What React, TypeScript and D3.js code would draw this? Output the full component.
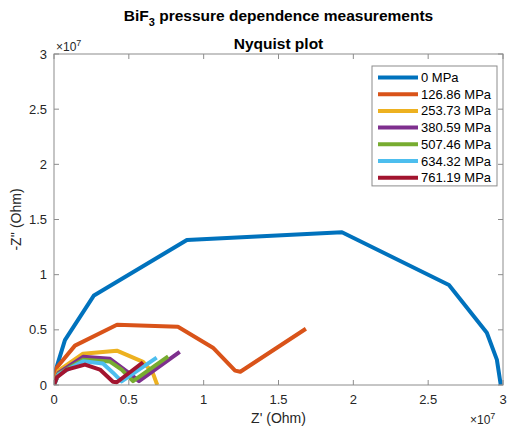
import React from "react";
import * as d3 from "d3";

// Nyquist data (Ohm) for each applied pressure
const pressures = ["0 MPa", "126.86 MPa", "253.73 MPa", "380.59 MPa", "507.46 MPa", "634.32 MPa", "761.19 MPa"];
const colors = ["#0072BD", "#D95319", "#EDB120", "#7E2F8E", "#77AC30", "#4DBEEE", "#A2142F"];

const zRe0 = [0, 0.15e6, 0.73e6, 2.67e6, 8.88e6, 19.24e6, 26.39e6, 28.92e6, 29.59e6, 29.85e6];
const zIm0 = [0, 1.5e6, 4.06e6, 8.12e6, 13.15e6, 13.85e6, 9.07e6, 4.74e6, 2.3e6, 0];

const zRe1 = [0, 0.2e6, 1.4e6, 4.21e6, 8.28e6, 10.62e6, 12.1e6, 12.45e6, 16.83e6];
const zIm1 = [0, 1.6e6, 3.57e6, 5.46e6, 5.28e6, 3.38e6, 1.3e6, 1.2e6, 5.1e6];

const zRe2 = [0, 0.3e6, 1.94e6, 4.2e6, 5.95e6, 6.6e6, 6.9e6];
const zIm2 = [0, 1.3e6, 2.84e6, 3.11e6, 2.1e6, 1.1e6, 0];

const zRe3 = [0, 0.3e6, 1.94e6, 3.74e6, 4.88e6, 5.68e6, 8.4e6];
const zIm3 = [0, 1.1e6, 2.55e6, 2.37e6, 1.21e6, 0.35e6, 3.01e6];

const zRe4 = [0, 0.3e6, 1.94e6, 3.74e6, 4.52e6, 5.28e6, 7.63e6];
const zIm4 = [0, 1.0e6, 2.3e6, 2.12e6, 1.39e6, 0.35e6, 2.59e6];

const zRe5 = [0, 0.3e6, 1.94e6, 3.27e6, 3.94e6, 4.52e6, 6.86e6];
const zIm5 = [0, 0.95e6, 2.15e6, 1.94e6, 1.12e6, 0.33e6, 2.48e6];

const zRe6 = [0, 0.2e6, 0.85e6, 2.07e6, 3.07e6, 3.94e6, 4.2e6, 5.95e6];
const zIm6 = [0, 0.7e6, 1.39e6, 1.85e6, 1.4e6, 0.3e6, 0.25e6, 2.06e6];

const seriesRe = [zRe0, zRe1, zRe2, zRe3, zRe4, zRe5, zRe6];
const seriesIm = [zIm0, zIm1, zIm2, zIm3, zIm4, zIm5, zIm6];

const xTicks = [0, 0.5e7, 1e7, 1.5e7, 2e7, 2.5e7, 3e7];
const yTicks = [0, 0.5e7, 1e7, 1.5e7, 2e7, 2.5e7, 3e7];

const W = 507;
const H = 428;
const left = 54;
const right = 503;
const top = 54;
const bottom = 385;
const font = "'Liberation Sans', Arial, Helvetica, sans-serif";
const textColor = "#262626";
const axisColor = "#8c8c8c";

export default function App() {
  const x = d3.scaleLinear().domain([0, 3e7]).range([left, right]);
  const y = d3.scaleLinear().domain([0, 3e7]).range([bottom, top]);
  const line = d3
    .line<[number, number]>()
    .x((d) => x(d[0]))
    .y((d) => y(d[1]));
  const fmt = (v: number) => d3.format("~g")(v / 1e7);

  const legX = 372;
  const legY = 66;
  const legW = 125;
  const rowH = 16.7;
  const legH = rowH * pressures.length + 3;

  return (
    <svg
      width={W}
      height={H}
      style={{ position: "absolute", left: 0, top: 0, background: "#fff" }}
      fontFamily={font}
    >
      <rect x={0} y={0} width={W} height={H} fill="#fff" />
      <defs>
        <clipPath id="plotClip">
          <rect x={left} y={top} width={right - left} height={bottom - top} />
        </clipPath>
      </defs>

      <g clipPath="url(#plotClip)">
        {seriesRe.map((re, i) => (
          <path
            key={pressures[i]}
            d={line(re.map((v, k) => [v, seriesIm[i][k]] as [number, number])) || ""}
            fill="none"
            stroke={colors[i]}
            strokeWidth={4}
            strokeLinejoin="round"
          />
        ))}
      </g>

      {/* axes box */}
      <rect
        x={left}
        y={top}
        width={right - left}
        height={bottom - top}
        fill="none"
        stroke={axisColor}
        strokeWidth={1}
      />
      {xTicks.map((t) => (
        <g key={"xt" + t}>
          <line x1={x(t)} x2={x(t)} y1={bottom} y2={bottom - 5} stroke={axisColor} />
          <line x1={x(t)} x2={x(t)} y1={top} y2={top + 5} stroke={axisColor} />
          <text x={x(t)} y={bottom + 19} textAnchor="middle" fontSize={13} fill={textColor}>
            {fmt(t)}
          </text>
        </g>
      ))}
      {yTicks.map((t) => (
        <g key={"yt" + t}>
          <line x1={left} x2={left + 5} y1={y(t)} y2={y(t)} stroke={axisColor} />
          <line x1={right} x2={right - 5} y1={y(t)} y2={y(t)} stroke={axisColor} />
          <text x={left - 7} y={y(t) + 4.5} textAnchor="end" fontSize={13} fill={textColor}>
            {fmt(t)}
          </text>
        </g>
      ))}

      {/* exponent markers */}
      <text x={left + 2} y={51} fontSize={12} fill={textColor}>
        ×10<tspan dy={-5} fontSize={9}>7</tspan>
      </text>
      <text x={right - 33} y={H - 4} fontSize={12} fill={textColor}>
        ×10<tspan dy={-5} fontSize={9}>7</tspan>
      </text>

      {/* titles */}
      <text x={(left + right) / 2} y={21} textAnchor="middle" fontSize={15.5} fontWeight="bold" fill="#000">
        BiF<tspan dy={5} fontSize={11}>3</tspan>
        <tspan dy={-5}> pressure dependence measurements</tspan>
      </text>
      <text x={(left + right) / 2} y={49} textAnchor="middle" fontSize={15.5} fontWeight="bold" fill="#000">
        Nyquist plot
      </text>

      {/* axis labels */}
      <text x={(left + right) / 2} y={H - 5} textAnchor="middle" fontSize={14} fill={textColor}>
        Z' (Ohm)
      </text>
      <text
        transform={`translate(21, ${(top + bottom) / 2}) rotate(-90)`}
        textAnchor="middle"
        fontSize={14}
        fill={textColor}
      >
        -Z'' (Ohm)
      </text>

      {/* legend */}
      <rect x={legX} y={legY} width={legW} height={legH} fill="#fff" stroke={axisColor} strokeWidth={1} />
      {pressures.map((p, i) => {
        const cy = legY + 11.5 + i * rowH;
        return (
          <g key={"lg" + p}>
            <line x1={legX + 6} x2={legX + 46} y1={cy} y2={cy} stroke={colors[i]} strokeWidth={4} />
            <text x={legX + 49} y={cy + 4.5} fontSize={13} fill="#000">
              {p}
            </text>
          </g>
        );
      })}
    </svg>
  );
}
